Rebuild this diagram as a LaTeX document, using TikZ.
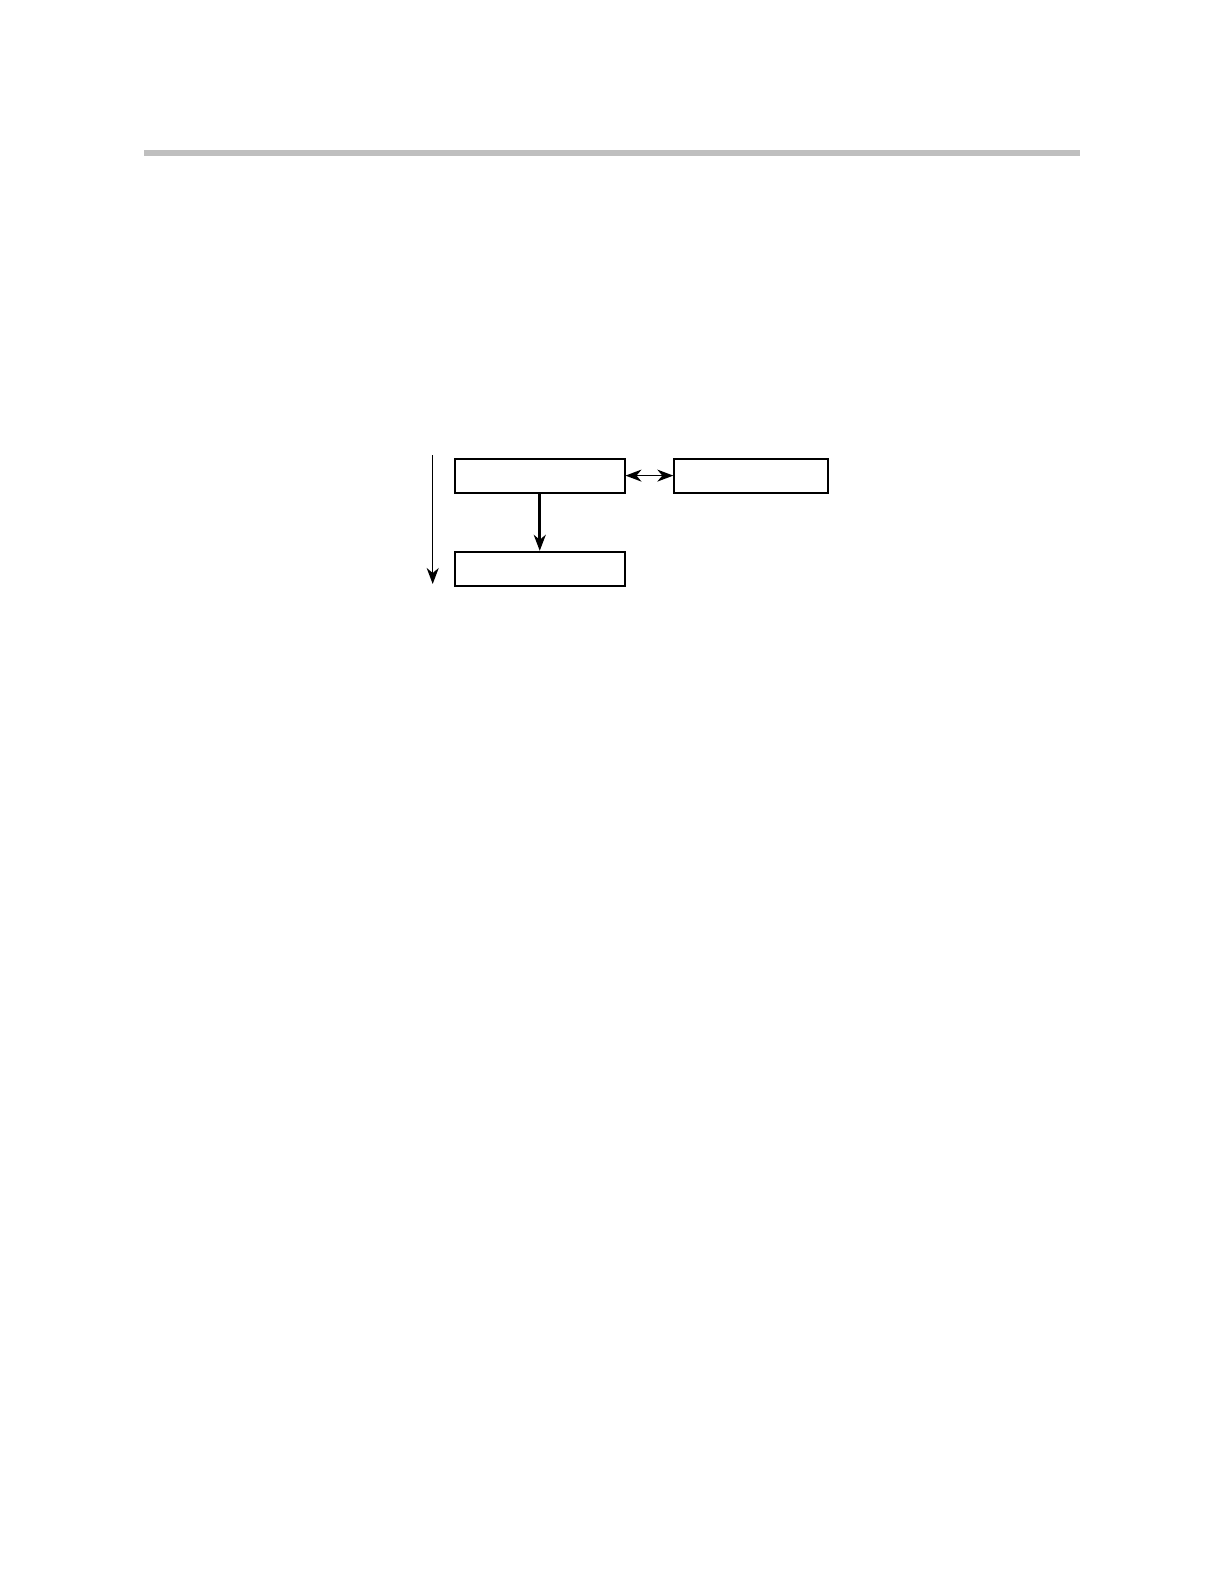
\documentclass[tikz,border=0pt]{standalone}
\usetikzlibrary{arrows.meta}
\begin{document}
\begin{tikzpicture}
[x=0.5pt,y=-0.5pt,>={Stealth[length=8pt,width=6pt,inset=2.5pt]},box/.style={draw,line width=1pt,inner sep=0pt,minimum width=84.75pt,minimum height=17pt},]

%Page size
\useasboundingbox (0,0) rectangle (1224,1584);

%Header rule
\fill[black!25] (143.7,150) rectangle (1079.7,156);

%Boxes
\node (top) at (539.75,475.6)[box] {};
\node (side) at (751.3,475.6)[box,minimum width=77pt] {};
\node (bottom) at (539.75,568.8)[box] {};

%Time axis
\coordinate (t0) at (432.7,455);
\coordinate (t1) at (432.7,584);

%Drawing arrows
\draw[->,line width=0.75pt] (t0) -- (t1);
\draw[->,line width=1.3pt] (top) -- (bottom);
\draw[<->,line width=0.75pt] (top) -- (side);

\end{tikzpicture}
\end{document}
